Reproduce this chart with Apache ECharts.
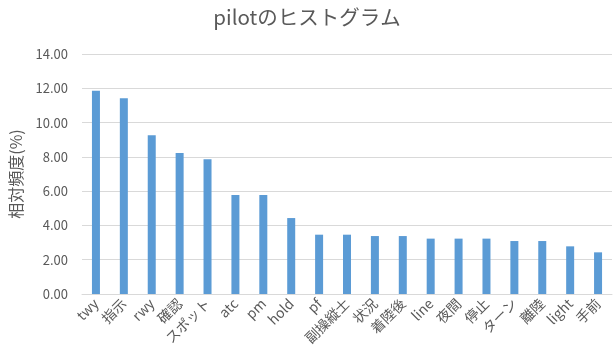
<!DOCTYPE html>
<html>
<head>
<meta charset="utf-8">
<script src="https://cdn.jsdelivr.net/npm/echarts@6/dist/echarts.min.js"></script>
<style>
  html, body { margin: 0; padding: 0; background: #fff; }
  #chart { width: 614px; height: 358px; }
</style>
</head>
<body>
<div id="chart"></div>
<script>
// Word categories and their relative frequency (%) in pilot utterances
const categories = ['twy', '指示', 'rwy', '確認', 'スポット', 'atc', 'pm', 'hold', 'pf', '副操縦士',
  '状況', '着陸後', 'line', '夜間', '停止', 'ターン', '離陸', 'light', '手前'];
const frequency = [11.85, 11.42, 9.26, 8.23, 7.86, 5.78, 5.78, 4.43, 3.46, 3.46,
  3.38, 3.38, 3.23, 3.23, 3.23, 3.09, 3.09, 2.78, 2.43];
const yTicks = { min: 0, max: 14, step: 2 };

const FONT = '"Noto Sans CJK JP", "Noto Sans", sans-serif';
const TEXT = '#595959';

const chart = echarts.init(document.getElementById('chart'), null, { renderer: 'canvas' });
chart.setOption({
  animation: false,
  title: {
    text: 'pilotのヒストグラム',
    left: 'center',
    top: 2,
    textStyle: { fontFamily: FONT, fontSize: 20.5, fontWeight: 'normal', color: TEXT }
  },
  grid: { left: 81, right: 2, top: 54, bottom: 64 },
  xAxis: {
    type: 'category',
    data: categories,
    axisTick: { show: false },
    axisLine: { lineStyle: { color: '#D9D9D9', width: 1 } },
    axisLabel: {
      interval: 0,
      rotate: 45,
      margin: 7,
      fontFamily: FONT,
      fontSize: 14,
      color: TEXT
    }
  },
  yAxis: {
    type: 'value',
    min: yTicks.min,
    max: yTicks.max,
    interval: yTicks.step,
    name: '相対頻度(%)',
    nameLocation: 'middle',
    nameGap: 58,
    nameTextStyle: { fontFamily: FONT, fontSize: 16, color: TEXT },
    axisLine: { show: false },
    axisTick: { show: false },
    splitLine: { lineStyle: { color: '#D9D9D9', width: 1 } },
    axisLabel: {
      formatter: v => v.toFixed(2),
      margin: 14,
      fontFamily: FONT,
      fontSize: 13,
      color: TEXT
    }
  },
  series: [{
    type: 'bar',
    data: frequency,
    barWidth: 8,
    itemStyle: { color: '#5B9BD5' }
  }]
});
</script>
</body>
</html>
